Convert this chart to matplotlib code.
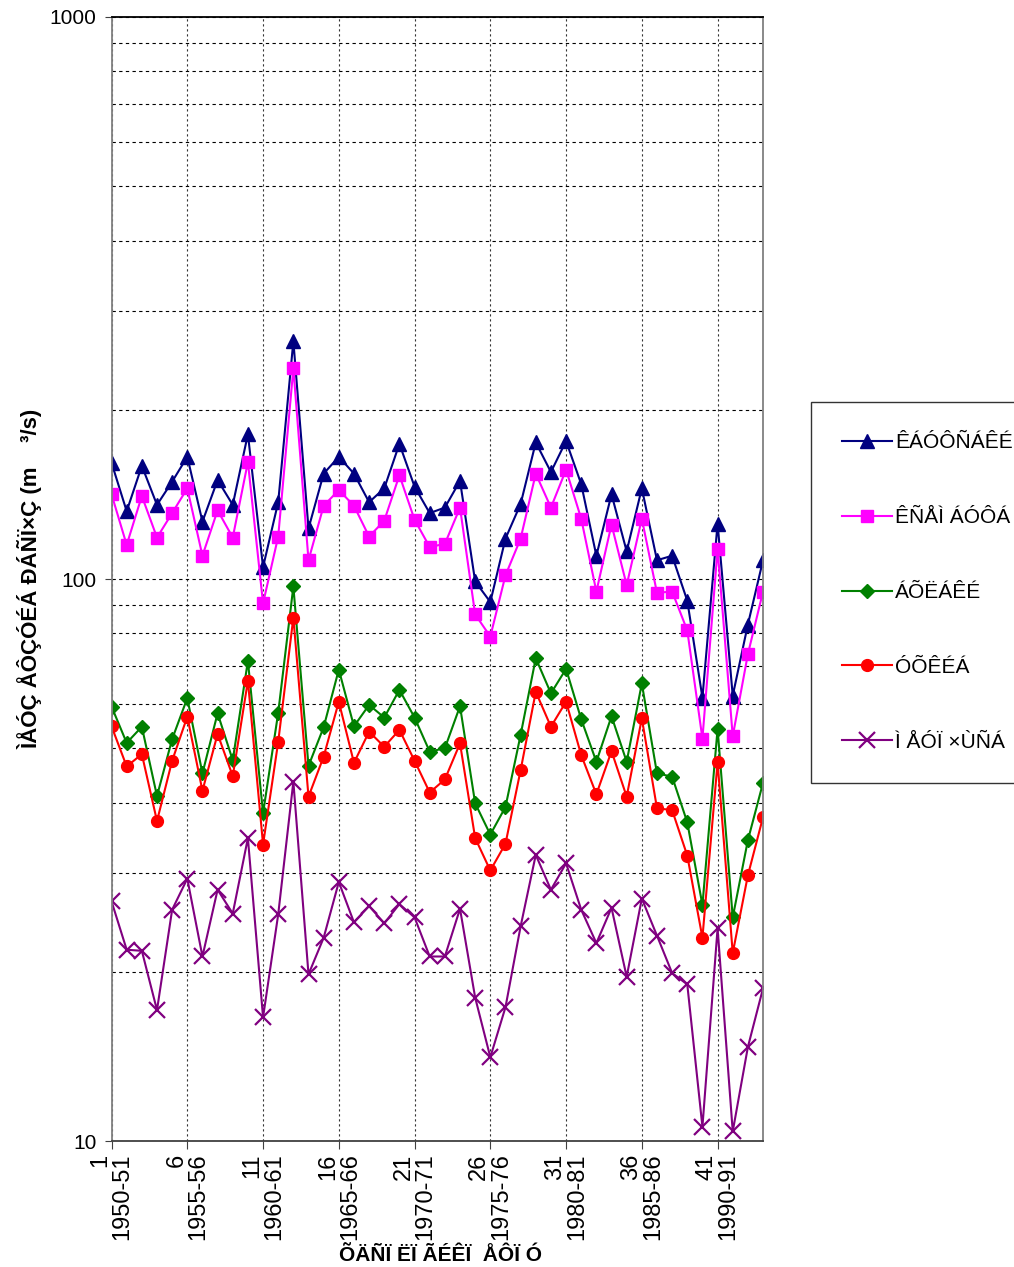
import matplotlib
matplotlib.use("Agg")
import matplotlib.pyplot as plt
from matplotlib.ticker import FixedLocator, LogLocator, NullFormatter

plt.rcParams["font.family"] = ["Liberation Sans", "DejaVu Sans"]

# mean annual discharge per station, hydrological years 1950-51 .. 1993-94
kastraki = [161, 132, 159, 135.5, 149, 165, 126.5, 150, 135.5, 181, 105, 137,
            265, 123, 154, 165, 154, 137, 145, 174, 146, 131, 134, 149.5, 99,
            91, 118, 136, 175, 155, 176, 147.5, 110, 141.5, 112, 145, 108, 110,
            91.5, 61.5, 125.5, 62, 83, 108]
kremasta = [141.5, 115, 140.5, 118.5, 131, 145, 110, 132.5, 118.5, 161.5, 90.5,
            119, 237, 108, 135, 144, 135, 119, 127, 153, 127.5, 114, 115.5, 134,
            86.5, 79, 101.5, 118, 154, 134, 156.5, 128, 95, 125, 97.5, 128, 94.5,
            95, 81, 52, 113, 52.5, 73.5, 95]
avlaki = [59.3, 51.1, 54.6, 41.1, 51.9, 61.4, 45.1, 57.7, 47.6, 71.5, 38.3, 57.8,
          97, 46.5, 54.5, 69, 54.7, 59.7, 56.7, 63.5, 56.7, 49.3, 50, 59.4, 39.9,
          35.1, 39.3, 52.8, 72.3, 62.6, 69.2, 56.3, 47.3, 57, 47.3, 65.2, 45.1,
          44.5, 36.9, 26.3, 54.1, 25, 34.3, 43.4]
sykia = [54.7, 46.4, 48.8, 37.1, 47.5, 56.9, 42, 53, 44.6, 65.9, 33.7, 51.3, 85.4,
         41, 48.3, 60.5, 47.1, 53.5, 50.3, 53.9, 47.5, 41.7, 44, 51, 34.6, 30.3,
         33.8, 45.7, 63, 54.6, 60.5, 48.6, 41.4, 49.4, 41, 56.5, 39.1, 38.8, 32.2,
         23, 47.2, 21.6, 29.7, 37.7]
mesochora = [26.7, 21.9, 21.8, 17.1, 25.8, 29.3, 21.3, 28, 25.4, 34.6, 16.6, 25.3,
             43.6, 19.8, 23, 28.9, 24.5, 26.2, 24.4, 26.4, 25, 21.3, 21.3, 25.9,
             18, 14.1, 17.3, 24.1, 32.3, 28, 31.2, 25.8, 22.5, 26, 19.6, 27, 23.2,
             19.9, 19, 10.6, 23.9, 10.4, 14.7, 18.7]

station_names = ["ÊÁÓÔÑÁÊÉ", "ÊÑÅÌ ÁÓÔÁ", "ÁÕËÁÊÉ", "ÓÕÊÉÁ", "Ì ÅÓÏ ×ÙÑÁ"]
tick_years = [1, 6, 11, 16, 21, 26, 31, 36, 41]
tick_labels = ["1\n1950-51", "6\n1955-56", "11\n1960-61", "16\n1965-66",
               "21\n1970-71", "26\n1975-76", "31\n1980-81", "36\n1985-86",
               "41\n1990-91"]

styles = [
    dict(color="#000080", marker="^", markersize=10.5),
    dict(color="#FF00FF", marker="s", markersize=8.5),
    dict(color="#008000", marker="D", markersize=7),
    dict(color="#FF0000", marker="o", markersize=8.5),
    dict(color="#800080", marker="x", markersize=11, markeredgewidth=1.6),
]

fig = plt.figure(figsize=(10.14, 12.67), dpi=100)
ax = fig.add_axes([0.110, 0.0994, 0.6425, 0.8872])

years = list(range(1, len(kastraki) + 1))
for series, name, style in zip([kastraki, kremasta, avlaki, sykia, mesochora],
                               station_names, styles):
    ax.plot(years, series, linewidth=1.5, label=name, **style)

ax.set_yscale("log")
ax.set_ylim(10, 1000)
ax.set_xlim(1, len(kastraki))

ax.yaxis.set_major_locator(FixedLocator([10, 100, 1000]))
ax.yaxis.set_major_formatter(plt.FixedFormatter(["10", "100", "1000"]))
ax.yaxis.set_minor_locator(LogLocator(base=10, subs=range(2, 10)))
ax.yaxis.set_minor_formatter(NullFormatter())
ax.tick_params(axis="y", which="minor", length=0)
ax.tick_params(axis="y", which="major", direction="out", length=5,
               labelsize=15, pad=6, color="#404040")

ax.set_xticks(tick_years)
ax.set_xticklabels(tick_labels, rotation=90, multialignment="right",
                   fontsize=17, linespacing=1.0)
ax.tick_params(axis="x", direction="out", length=6, pad=3, color="#404040")

# dashed horizontal grid at every log step, dotted vertical grid every 5 years
ax.grid(True, which="both", axis="y", color="black", linestyle=(0, (3, 3)),
        linewidth=0.8)
ax.grid(True, which="major", axis="x", color="#333333", linestyle=(0, (2, 2.5)),
        linewidth=0.8)
ax.set_axisbelow(True)

ax.spines["left"].set_color("#808080")
ax.spines["right"].set_color("#808080")
ax.spines["bottom"].set_color("#404040")
ax.spines["top"].set_color("black")
for side in ax.spines:
    ax.spines[side].set_linewidth(1.3)

ax.set_ylabel("ÌÅÓÇ ÅÔÇÓÉÁ ÐÁÑÏ×Ç (m    ³/s)", fontsize=16, fontweight="bold")
ax.yaxis.set_label_coords(-0.1065, 0.5)
ax.set_xlabel("ÕÄÑÏ ËÏ ÃÉÊÏ  ÅÔÏ Ó", fontsize=15, fontweight="bold")
ax.xaxis.set_label_coords(0.505, -0.093)

legend = fig.legend(loc="upper left", bbox_to_anchor=(811 / 1014, 1 - 402 / 1267),
                    frameon=True, fancybox=False, edgecolor="black",
                    fontsize=15, labelspacing=2.68, handlelength=2.4,
                    handletextpad=0.15, borderpad=1.5, borderaxespad=0)
legend.get_frame().set_linewidth(1.0)

fig.savefig("out.png", dpi=100, facecolor="white")
